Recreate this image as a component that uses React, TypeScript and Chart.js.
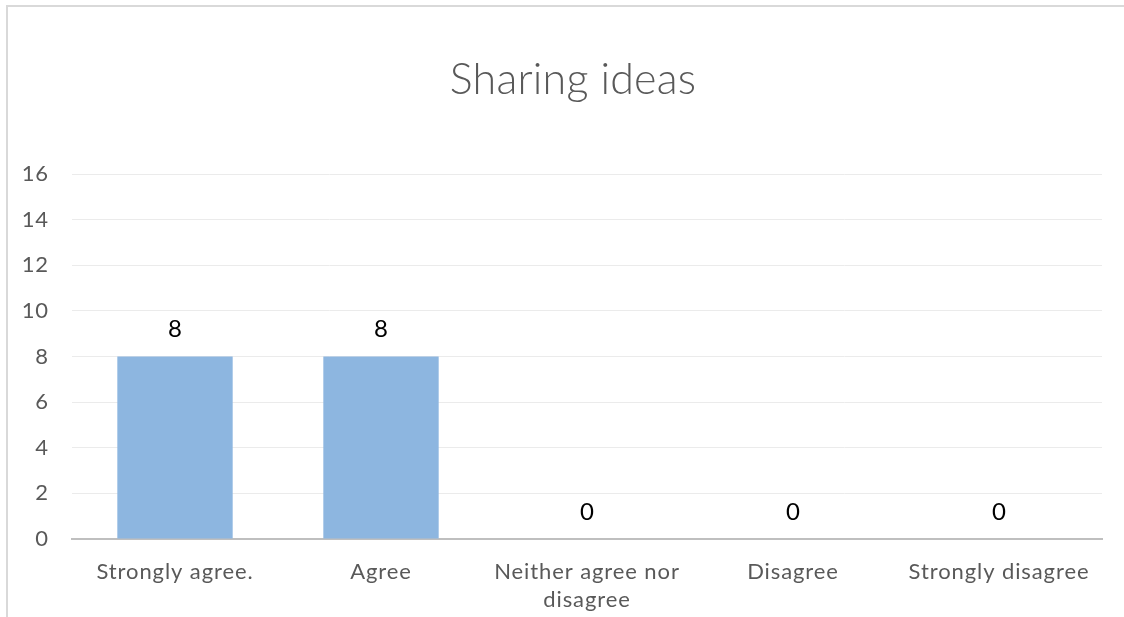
import { useEffect, useRef } from 'react';
import { Chart, registerables } from 'chart.js';

Chart.register(...registerables);

const chartTitle = 'Sharing ideas';
const categories: (string | string[])[] = [
  'Strongly agree.',
  'Agree',
  ['Neither agree nor', 'disagree'],
  'Disagree',
  'Strongly disagree',
];
const values = [8, 8, 0, 0, 0];
const yMin = 0;
const yMax = 16;
const yStep = 2;

const FONT = 'Lato, "Open Sans", sans-serif';
const LS = '0.9px';

const frameAndLabels = {
  id: 'frameAndLabels',
  beforeDraw(chart: any) {
    const ctx = chart.ctx;
    ctx.save();
    ctx.fillStyle = '#ffffff';
    ctx.fillRect(0, 0, chart.width, chart.height);
    ctx.strokeStyle = '#d9d9d9';
    ctx.lineWidth = 2;
    ctx.beginPath();
    ctx.moveTo(7, chart.height + 2);
    ctx.lineTo(7, 6);
    ctx.lineTo(chart.width + 2, 6);
    ctx.stroke();
    // title
    ctx.fillStyle = '#595959';
    ctx.font = `300 43px ${FONT}`;
    (ctx as any).letterSpacing = '0.2px';
    ctx.textAlign = 'center';
    ctx.textBaseline = 'middle';
    ctx.fillText(chartTitle, 573, 80);
    ctx.restore();
  },
  afterDatasetsDraw(chart: any) {
    const ctx = chart.ctx;
    const meta = chart.getDatasetMeta(0);
    const data = chart.data.datasets[0].data;
    ctx.save();
    (ctx as any).letterSpacing = '0px';
    ctx.fillStyle = '#000000';
    ctx.font = `24px ${FONT}`;
    ctx.textAlign = 'center';
    ctx.textBaseline = 'middle';
    meta.data.forEach((el: any, i: number) => {
      ctx.fillText(String(data[i]), el.x, el.y - 27);
    });
    ctx.restore();
  },
};

const spacing = {
  id: 'spacing',
  beforeInit(chart: any) {
    (chart.ctx as any).letterSpacing = LS;
  },
  beforeUpdate(chart: any) {
    (chart.ctx as any).letterSpacing = LS;
  },
  beforeDraw(chart: any) {
    (chart.ctx as any).letterSpacing = LS;
  },
};

export default function App() {
  const ref = useRef<HTMLCanvasElement | null>(null);
  useEffect(() => {
    document.body.style.margin = '0';
    if (!ref.current) return;
    const chart = new Chart(ref.current, {
      type: 'bar',
      data: {
        labels: categories as any,
        datasets: [
          {
            data: values,
            backgroundColor: '#8DB6E0',
            borderWidth: 0,
            barPercentage: 0.56,
            categoryPercentage: 1,
          },
        ],
      },
      options: {
        responsive: false,
        animation: false,
        devicePixelRatio: 1,
        layout: { padding: { left: 10, right: 22, top: 174, bottom: 0 } },
        plugins: {
          legend: { display: false },
          tooltip: { enabled: false },
          title: { display: false },
        },
        scales: {
          x: {
            grid: { display: false, drawTicks: false },
            border: { display: true, color: '#bfbfbf', width: 2 },
            ticks: {
              color: '#595959',
              font: { family: FONT, size: 22, lineHeight: 1.27 },
              padding: 19,
              maxRotation: 0,
              autoSkip: false,
            },
            afterFit(scale: any) {
              scale.height = 617 - 539;
            },
          },
          y: {
            min: yMin,
            max: yMax,
            grid: { color: '#ebebeb', lineWidth: 1, drawTicks: false },
            border: { display: false },
            ticks: {
              stepSize: yStep,
              color: '#595959',
              font: { family: FONT, size: 22 },
              padding: 23,
            },
            afterFit(scale: any) {
              scale.width = 62;
            },
          },
        },
      },
      plugins: [spacing, frameAndLabels],
    });
    return () => chart.destroy();
  }, []);
  return <canvas ref={ref} width={1124} height={617} style={{ display: 'block' }} />;
}
